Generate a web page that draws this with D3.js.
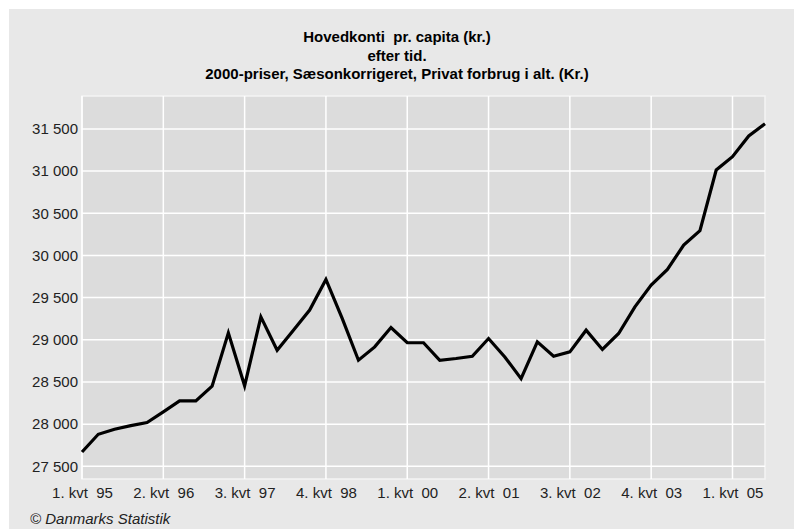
<!DOCTYPE html>
<html>
<head>
<meta charset="utf-8">
<script src="https://cdn.jsdelivr.net/npm/d3@7"></script>
<style>
  body { margin: 0; background: #fff; }
  text { font-family: "Liberation Sans", Arial, sans-serif; }
</style>
</head>
<body>
<div id="chart"></div>
<script>
// quarters 1. kvt 95 .. 3. kvt 05
var quarters = [];
for (var yr = 1995; yr <= 2005; yr++) {
  for (var q = 1; q <= 4; q++) {
    if (yr == 2005 && q == 4) break;
    quarters.push(q + ". kvt  " + String(yr).slice(2));
  }
}

var values = [27670, 27880, 27940, 27983, 28020, 28145, 28275, 28275, 28450, 29082,
              28455, 29272, 28877, 29114, 29352, 29716, 29253, 28758, 28916, 29146,
              28965, 28965, 28758, 28778, 28805, 29015, 28797, 28540, 28975, 28805,
              28857, 29114, 28885, 29075, 29390, 29648, 29834, 30123, 30293, 31013,
              31171, 31417, 31560];

var yTicks = [27500, 28000, 28500, 29000, 29500, 30000, 30500, 31000, 31500];
var xTicks = ["1. kvt  95", "2. kvt  96", "3. kvt  97", "4. kvt  98", "1. kvt  00",
              "2. kvt  01", "3. kvt  02", "4. kvt  03", "1. kvt  05"];

var titleLines = ["Hovedkonti  pr. capita (kr.)", "efter tid.",
                  "2000-priser, Sæsonkorrigeret, Privat forbrug i alt. (Kr.)"];

var W = 794, H = 531;
var margin = {top: 96, right: 29, bottom: 52, left: 82},
    width = W - margin.left - margin.right,
    height = H - margin.top - margin.bottom;

var svg = d3.select("#chart")
  .append("svg")
    .attr("width", W)
    .attr("height", H);

// outer panel
svg.append("rect")
  .attr("x", 9).attr("y", 9)
  .attr("width", W - 9).attr("height", H - 11)
  .attr("fill", "#e8e8e8");

svg.selectAll("text.title")
  .data(titleLines)
  .enter()
  .append("text")
    .attr("class", "title")
    .attr("x", W / 2)
    .attr("y", function(d, i) { return 42 + i * 18.5; })
    .attr("text-anchor", "middle")
    .style("font-size", "15px")
    .style("font-weight", "bold")
    .style("white-space", "pre")
    .text(function(d) { return d; });

var g = svg.append("g")
  .attr("transform", "translate(" + margin.left + "," + margin.top + ")");

var x = d3.scalePoint()
  .domain(quarters)
  .range([0, width]);

var y = d3.scaleLinear()
  .domain([27350, 31890])
  .range([height, 0]);

var loc = d3.formatLocale({decimal: ",", thousands: " ", grouping: [3], currency: ["", ""]});
var fmt = loc.format(",");

g.append("rect")
  .attr("width", width)
  .attr("height", height)
  .attr("fill", "#dcdcdc")
  .attr("stroke", "#f4f4f4")
  .attr("stroke-width", 1.5);

// grid
g.selectAll("line.hgrid")
  .data(yTicks)
  .enter()
  .append("line")
    .attr("class", "hgrid")
    .attr("x1", 0).attr("x2", width)
    .attr("y1", function(d) { return y(d); })
    .attr("y2", function(d) { return y(d); })
    .attr("stroke", "#fff")
    .attr("stroke-width", 1.5);

g.selectAll("line.vgrid")
  .data(xTicks)
  .enter()
  .append("line")
    .attr("class", "vgrid")
    .attr("x1", function(d) { return x(d); })
    .attr("x2", function(d) { return x(d); })
    .attr("y1", 0).attr("y2", height)
    .attr("stroke", "#fff")
    .attr("stroke-width", 1.5);

// axes
var yAxis = g.append("g")
  .call(d3.axisLeft(y).tickValues(yTicks).tickFormat(fmt).tickSize(0).tickPadding(4));
yAxis.select(".domain").remove();
yAxis.selectAll("text")
  .style("font-size", "15px")
  .attr("fill", "#222");

var xAxis = g.append("g")
  .attr("transform", "translate(0," + height + ")")
  .call(d3.axisBottom(x).tickValues(xTicks).tickSize(0).tickPadding(8));
xAxis.select(".domain").remove();
xAxis.selectAll("text")
  .style("font-size", "15px")
  .style("white-space", "pre")
  .attr("fill", "#222");

var line = d3.line()
  .x(function(d, i) { return x(quarters[i]); })
  .y(function(d) { return y(d); });

g.append("path")
  .datum(values)
  .attr("d", line)
  .attr("fill", "none")
  .attr("stroke", "#000")
  .attr("stroke-width", 3.2)
  .attr("stroke-linejoin", "miter");

svg.append("text")
  .attr("x", 30)
  .attr("y", 524)
  .style("font-size", "15px")
  .style("font-style", "italic")
  .attr("fill", "#222")
  .text("© Danmarks Statistik");
</script>
</body>
</html>
